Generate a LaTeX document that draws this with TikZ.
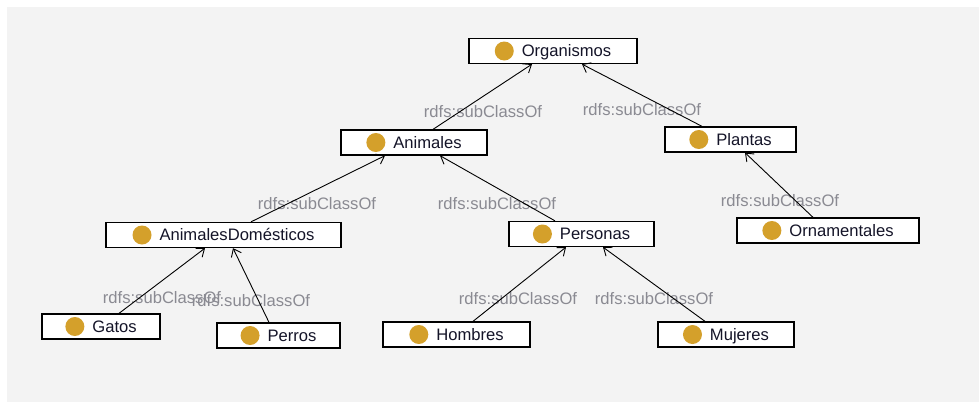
\documentclass[tikz,border=0pt]{standalone}
\usepackage{fontspec}
\setmainfont{Liberation Sans}
\usetikzlibrary{arrows.meta}
\definecolor{panel}{RGB}{243,243,243}
\definecolor{gold}{RGB}{212,160,43}
\definecolor{lblgray}{RGB}{138,138,146}
\definecolor{ink}{RGB}{20,20,40}
\newcommand{\classdot}{\tikz[baseline=-0.36em]\fill[gold] (0pt,0pt) circle (9.5pt);\hspace{8pt}}
\tikzset{
  classbox/.style={draw=black, line width=1.3pt, fill=white, inner sep=0pt,
    minimum height=25pt, text=ink, font=\fontsize{16.6}{19}\selectfont},
  sublbl/.style={text=lblgray, inner sep=0pt, font=\fontsize{16.6}{19}\selectfont},
  isa/.style={draw=black, line width=0.9pt, -{Straight Barb[length=7pt,width=11pt,line width=0.9pt]}}
}
\begin{document}
\begin{tikzpicture}[x=1pt,y=-1pt]
\useasboundingbox (0,0) rectangle (979,402);
\fill[white] (0,0) rectangle (979,402);
\fill[panel] (7,7) rectangle (979,402);

% edge labels
\node[sublbl] (l1) at (483,112) {rdfs:subClassOf};
\node[sublbl] (l2) at (642,110) {rdfs:subClassOf};
\node[sublbl] (l3) at (317,204) {rdfs:subClassOf};
\node[sublbl] (l4) at (497,204) {rdfs:subClassOf};
\node[sublbl] (l5) at (780,201) {rdfs:subClassOf};
\node[sublbl] (l6) at (162,298) {rdfs:subClassOf};
\node[sublbl] (l7) at (251,301) {rdfs:subClassOf};
\node[sublbl] (l8) at (518,299) {rdfs:subClassOf};
\node[sublbl] (l9) at (654,299) {rdfs:subClassOf};

% class boxes
\node[classbox, minimum width=168pt] (org)  at (553,51)    {\classdot Organismos};
\node[classbox, minimum width=146pt] (ani)  at (414,142.5) {\classdot Animales};
\node[classbox, minimum width=131pt] (pla)  at (730.5,139.5) {\classdot Plantas};
\node[classbox, minimum width=235pt] (dom)  at (223.5,235) {\classdot AnimalesDomésticos};
\node[classbox, minimum width=145pt] (pers) at (581.5,234) {\classdot Personas};
\node[classbox, minimum width=182pt] (orn)  at (828,230.5) {\classdot Ornamentales};
\node[classbox, minimum width=118pt] (gat)  at (101,326.5) {\classdot Gatos};
\node[classbox, minimum width=123pt] (prr)  at (278.5,335.5) {\classdot Perros};
\node[classbox, minimum width=147pt] (hom)  at (456.5,334.5) {\classdot Hombres};
\node[classbox, minimum width=136pt] (muj)  at (726,334.5) {\classdot Mujeres};

% subclass links
\draw[isa] ([xshift=19pt]ani.north)    -- ([xshift=-21pt]org.south);
\draw[isa] ([xshift=-28.5pt]pla.north) -- ([xshift=29pt]org.south);
\draw[isa] ([xshift=27.5pt]dom.north)  -- ([xshift=-29pt]ani.south);
\draw[isa] ([xshift=-26.5pt]pers.north) -- ([xshift=26pt]ani.south);
\draw[isa] ([xshift=-15pt]orn.north)   -- ([xshift=14.5pt]pla.south);
\draw[isa] ([xshift=18pt]gat.north)    -- ([xshift=-18.5pt]dom.south);
\draw[isa] ([xshift=-9.5pt]prr.north)  -- ([xshift=9.5pt]dom.south);
\draw[isa] ([xshift=16.5pt]hom.north)  -- ([xshift=-15.5pt]pers.south);
\draw[isa] ([xshift=-21pt]muj.north)   -- ([xshift=21.5pt]pers.south);
\end{tikzpicture}
\end{document}
